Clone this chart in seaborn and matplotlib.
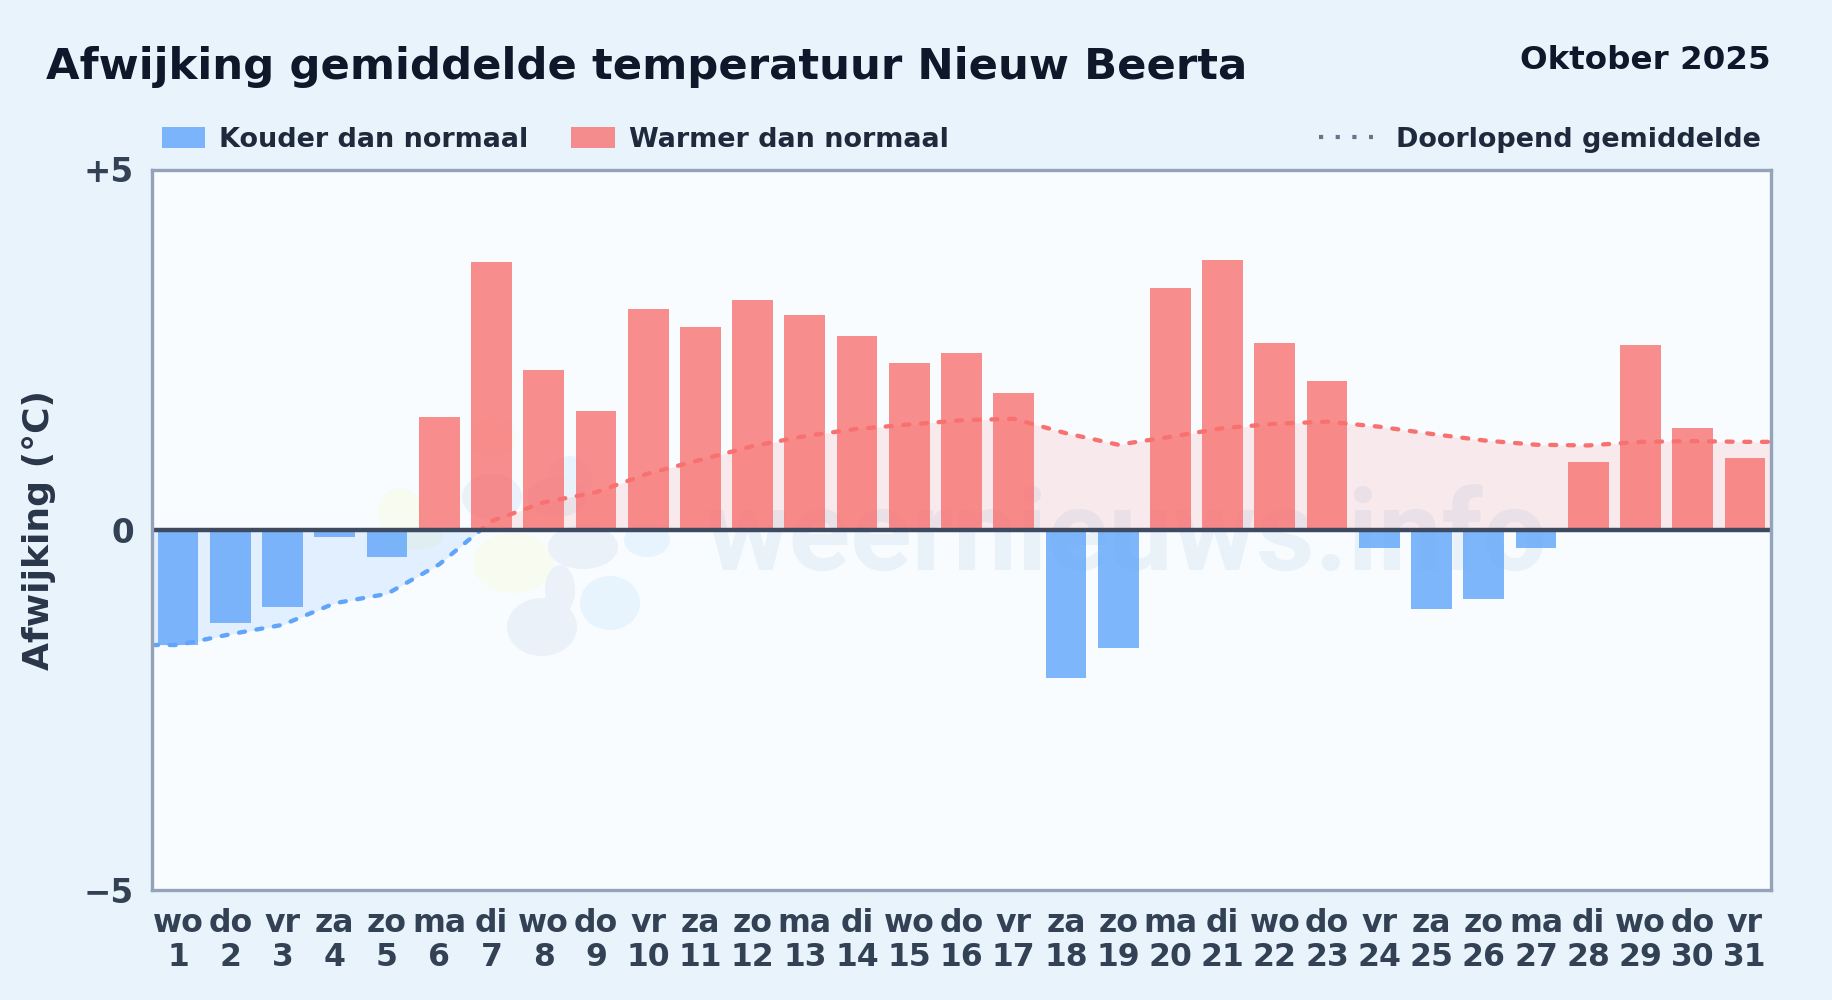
import numpy as np
import pandas as pd
import matplotlib
matplotlib.use("Agg")
import matplotlib.pyplot as plt
from matplotlib.lines import Line2D
from matplotlib.patches import Ellipse, Patch, Rectangle
import seaborn as sns

weekdays = ["wo", "do", "vr", "za", "zo", "ma", "di", "wo", "do", "vr", "za", "zo", "ma", "di", "wo", "do",
            "vr", "za", "zo", "ma", "di", "wo", "do", "vr", "za", "zo", "ma", "di", "wo", "do", "vr"]
days = list(range(1, 32))
afwijking = [-1.60, -1.30, -1.07, -0.10, -0.38, 1.56, 3.71, 2.22, 1.65, 3.06, 2.82, 3.19, 2.98, 2.69, 2.32, 2.46,
             1.90, -2.06, -1.64, 3.35, 3.74, 2.59, 2.07, -0.25, -1.10, -0.96, -0.26, 0.94, 2.56, 1.41, 0.99]
doorlopend = [-1.60, -1.45, -1.32, -1.02, -0.89, -0.48, 0.12, 0.38, 0.52, 0.78, 0.97, 1.16, 1.30, 1.40, 1.46, 1.52,
              1.54, 1.34, 1.18, 1.29, 1.41, 1.47, 1.50, 1.43, 1.33, 1.24, 1.18, 1.17, 1.22, 1.23, 1.22]
y_ticks = [5, 0, -5]
y_tick_labels = ["+5", "0", "\u22125"]

BG = "#e8f3fc"
PLOT_BG = "#f8fcff"
BLUE = "#60a5fa"
RED = "#f87171"
AX_L, AX_T, AX_W, AX_H = 152, 169.5, 1619, 720.5

sns.set_theme(style="white")
plt.rcParams["font.family"] = ["DejaVu Sans"]

labels = [f"{w}\n{d}" for w, d in zip(weekdays, days)]
df = pd.DataFrame({"label": labels, "waarde": afwijking})
df["soort"] = np.where(df["waarde"] < 0, "koud", "warm")

fig = plt.figure(figsize=(18.32, 10), dpi=100, facecolor=BG)
ax = fig.add_axes([AX_L / 1832, 1 - (AX_T + AX_H) / 1000, AX_W / 1832, AX_H / 1000], facecolor=PLOT_BG)

# watermark logo, behind the bars (pixel positions of the image)
blobs = [(493, 437, 23, 20, "#f7fbf0"), (400, 513, 22, 25, "#f7fbf0"), (413, 538, 30, 12, "#f7fbf0"),
         (513, 563, 40, 30, "#f7fbf0"),
         (647, 540, 23, 17, "#e8f4fd"), (570, 480, 22, 24, "#e8f4fd"), (610, 603, 30, 27, "#e8f4fd"),
         (492, 497, 30, 23, "#eaf1f8"), (557, 497, 30, 20, "#eaf1f8"), (583, 547, 35, 22, "#eaf1f8"),
         (560, 590, 15, 25, "#eaf1f8"), (542, 627, 35, 29, "#eaf1f8")]
for px, py, rx, ry, bc in blobs:
    ax.add_patch(Ellipse(((px - AX_L) / AX_W, (AX_T + AX_H - py) / AX_H), rx * 2 / AX_W, ry * 2 / AX_H,
                         transform=ax.transAxes, color=bc, lw=0, zorder=0.5))
ax.text(0.342, 0.444, "weernieuws.info", transform=ax.transAxes, fontsize=82, fontweight="bold",
        family="Roboto", color="#e9f1f9", va="baseline", ha="left", zorder=0.6)

sns.barplot(data=df, x="label", y="waarde", hue="soort", dodge=False, width=0.78, saturation=1,
            palette={"koud": BLUE, "warm": RED}, alpha=0.8, legend=False, ax=ax, zorder=2, linewidth=0)

# running mean runs on to both edges of the plot
line_x = np.array([-0.5] + list(range(31)) + [30.5])
line_y = np.array([doorlopend[0]] + doorlopend + [doorlopend[-1]])

ax.fill_between(line_x, line_y, 0, where=line_y <= 0, interpolate=True, color=BLUE, alpha=0.15, lw=0, zorder=1)
ax.fill_between(line_x, line_y, 0, where=line_y >= 0, interpolate=True, color=RED, alpha=0.13, lw=0, zorder=1)

for kleur, y0, h in [(BLUE, -5, 5), (RED, 0, 5)]:
    sns.lineplot(x=line_x, y=line_y, color=kleur, lw=3.1, linestyle=(0, (1.4, 2.7)), dash_capstyle="round",
                 errorbar=None, legend=False, ax=ax, zorder=3)
    clip = Rectangle((-0.5, y0), 31, h, transform=ax.transData)
    ax.lines[-1].set_clip_path(clip)

ax.axhline(0, color="#3d4a5f", lw=3.2, zorder=4)

ax.set_xlim(-0.5, 30.5)
ax.set_ylim(-5, 5)
ax.set_yticks(y_ticks)
ax.set_yticklabels(y_tick_labels, fontsize=23.5, fontweight="bold", color="#334155")
ax.set_xticks(range(31))
ax.set_xticklabels(labels, fontsize=22.7, fontweight="bold", color="#334155", linespacing=1.13)
ax.tick_params(axis="both", length=0)
ax.tick_params(axis="x", pad=13)
ax.tick_params(axis="y", pad=13)
ax.set_xlabel("")
ax.set_ylabel("")
for s in ax.spines.values():
    s.set_color("#94a3b8")
    s.set_linewidth(2.4)
    s.set_zorder(5)

fig.text(46 / 1832, 1 - 67 / 1000, "Afwijking gemiddelde temperatuur Nieuw Beerta", fontsize=31.2,
         fontweight="bold", color="#0f172a", va="center", ha="left")
fig.text(1771 / 1832, 1 - 60.5 / 1000, "Oktober 2025", fontsize=23.4, fontweight="bold", color="#0f172a",
         va="center", ha="right")
fig.text(39 / 1832, 1 - 530 / 1000, "Afwijking (\u00b0C)", fontsize=26, fontweight="bold", color="#293548",
         va="center", ha="center", rotation=90)

left_handles = [Patch(color=BLUE, alpha=0.8, lw=0), Patch(color=RED, alpha=0.8, lw=0)]
leg1 = ax.legend(left_handles, ["Kouder dan normaal", "Warmer dan normaal"], loc="lower left",
                 bbox_to_anchor=(2 / AX_W, 1 + 9 / AX_H), ncol=2, frameon=False, handlelength=1.6, handleheight=0.85,
                 handletextpad=0.52, columnspacing=1.6, borderpad=0, borderaxespad=0.28,
                 prop={"size": 19.45, "weight": "bold"}, labelcolor="#1e293b")
ax.add_artist(leg1)
right_handle = Line2D([], [], color="#64748b", lw=3, linestyle=(0, (1, 3)))
ax.legend([right_handle], ["Doorlopend gemiddelde"], loc="lower right", bbox_to_anchor=(1 - 3 / AX_W, 1 + 9 / AX_H),
          frameon=False, handlelength=2.0, handletextpad=0.85, borderpad=0, borderaxespad=0.28,
          prop={"size": 19.45, "weight": "bold"}, labelcolor="#1e293b")

fig.savefig("out.png", dpi=100, facecolor=BG)
